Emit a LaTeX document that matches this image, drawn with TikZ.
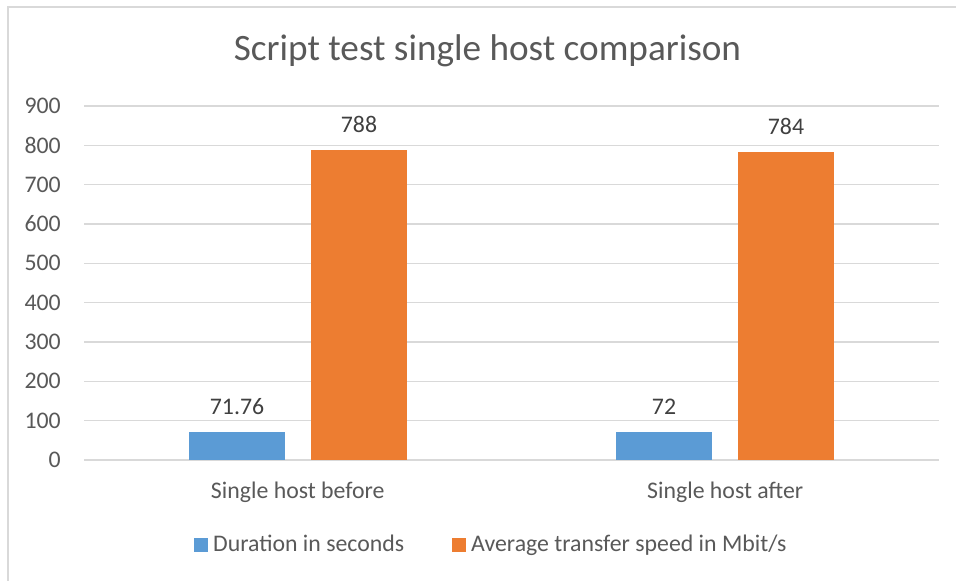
\documentclass[tikz,border=0pt]{standalone}
\usepackage{fontspec}
\setmainfont{Carlito}
\definecolor{gridc}{HTML}{D9D9D9}
\definecolor{txtc}{HTML}{595959}
\definecolor{lblc}{HTML}{404040}
\definecolor{barblue}{HTML}{5B9BD5}
\definecolor{barorange}{HTML}{ED7D31}
\begin{document}
\begin{tikzpicture}[x=1pt,y=-1pt,
  grid/.style={draw=gridc,line width=1.3pt},
  tick/.style={anchor=east,text=txtc,font=\fontsize{23.8}{28}\selectfont,inner sep=0pt},
  cat/.style={anchor=base,text=txtc,font=\fontsize{23.8}{28}\selectfont,inner sep=0pt},
  val/.style={anchor=base,text=lblc,font=\fontsize{23.8}{28}\selectfont,inner sep=0pt},
  leg/.style={anchor=base west,text=txtc,font=\fontsize{23.8}{28}\selectfont,inner sep=0pt},
  bluebar/.style={fill=barblue},
  orangebar/.style={fill=barorange}]
\useasboundingbox (0,0) rectangle (956,581);
\fill[white] (0,0) rectangle (956,581);
% frame
\draw[draw=gridc,line width=1.3pt] (8,581) -- (8,7) -- (956,7);
% title
\node[anchor=base,text=txtc,font=\fontsize{37.2}{44}\selectfont,inner sep=0pt] (title) at (487.5,60) {Script test single host comparison};
% gridlines and ticks
\foreach \v in {0,100,...,900}{
  \draw[grid] (84,{460-0.3933*\v}) -- (939,{460-0.3933*\v});
  \node[tick] (t\v) at (61,{460-0.3933*\v}) {\v};
}
% bars
\fill[bluebar] (189,460) rectangle (285,{460-0.3933*71.76});
\fill[orangebar] (311,460) rectangle (407,{460-0.3933*788});
\fill[bluebar] (616,460) rectangle (712,{460-0.3933*72});
\fill[orangebar] (738,460) rectangle (834,{460-0.3933*784});
% value labels
\node[val] (v1) at (237,{460-0.3933*71.76-17.5}) {71.76};
\node[val] (v2) at (359,{460-0.3933*788-17.5}) {788};
\node[val] (v3) at (664,{460-0.3933*72-17.5}) {72};
\node[val] (v4) at (786,{460-0.3933*784-17.5}) {784};
% categories
\node[cat] (c1) at (297.75,498.3) {Single host before};
\node[cat] (c2) at (725.25,498.3) {Single host after};
% legend
\fill[bluebar] (194,538) rectangle (208,552);
\node[leg] (l1) at (213,551.7) {Duration in seconds};
\fill[orangebar] (452,538) rectangle (466,552);
\node[leg] (l2) at (471,551.7) {Average transfer speed in Mbit/s};
\end{tikzpicture}
\end{document}
